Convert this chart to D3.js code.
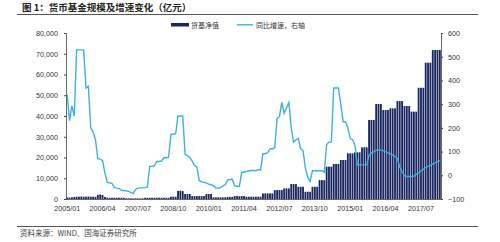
<!DOCTYPE html>
<html>
<head>
<meta charset="utf-8">
<script src="https://cdn.jsdelivr.net/npm/d3@7"></script>
<style>
  body { margin: 0; background: #fff; }
  svg text { font-family: "Liberation Sans", Arial, sans-serif; }
  .cn { font-family: "Noto Sans CJK SC", sans-serif; }
</style>
</head>
<body>
<div id="chart"></div>
<script>
// months 2005/01 .. 2018/03
var months = d3.timeMonths(new Date(2005, 0, 1), new Date(2018, 3, 1));
var fmt = d3.timeFormat("%Y/%m");
var categories = months.map(function (d) { return fmt(d); });

// 货基净值 (亿元), left axis
var fundSize = [
  700, 700, 800,
  1000, 1100, 1100, 1200, 1100, 1100, 1200, 1100, 1100, 1000,
  2000, 2200, 1900,
  1000,
  600, 600, 600, 600, 600, 600, 600, 600,
  300, 300, 300, 300, 300, 300, 300, 300,
  600, 600, 600, 600, 600, 600, 600, 600, 600, 600, 600,
  1100, 1100, 1100,
  3900, 4000, 3800,
  2400, 2400, 2400,
  1400, 1400, 1400, 1400, 1400, 1400,
  2400, 2400, 2400,
  800, 800, 800, 800, 800, 800,
  1000, 1000, 1000,
  1400, 1400, 1400, 1400, 1400,
  1100, 1100, 1100, 1100, 1100, 1100, 1100,
  2700, 2700, 2700, 2700, 2700,
  4300, 4300, 4300, 4300,
  5100, 5100, 5100,
  7200, 7200, 7200,
  5900, 5900, 5900,
  3500, 3500, 3500,
  5900, 5900, 5900,
  9100, 9100, 9100,
  15600, 15600, 15600,
  16900, 16900, 16900,
  18800, 18800, 18800,
  22000, 22000, 22000,
  22500, 22500, 22500,
  24900, 24900, 24900,
  38100, 38100, 38100,
  45800, 45800, 45800,
  42900, 42900, 42900,
  43700, 43700, 43700,
  47200, 47200, 47200,
  44800, 44800, 44800,
  42100, 42100, 42100,
  53600, 53600, 53600,
  65700, 65700, 65700,
  71800, 71800, 71800, 71800
];

// 同比增速 (%), right axis
var yoyGrowth = [
  340, 230, 293, 250, 529, 529, 529, 529, 368, 375,
  200, 183, 150, 70, 68, 62, 10, -30, -32, -34,
  -52, -54, -55, -63, -64, -66, -68, -72, -77, -60,
  -54, -53, -53, -52, -49, 37, 38, 40, 58, 58,
  60, 74, 74, 76, 173, 173, 175, 250, 250, 250,
  88, 82, 76, 60, 41, 34, -23, -28, -30, -32,
  -37, -40, -44, -54, -54, -52, -45, -40, -20, -18,
  -17, -44, -46, -47, 12, 14, 16, 18, 20, 20,
  19, 24, 22, 91, 91, 95, 112, 112, 115, 240,
  247, 307, 262, 285, 307, 200, 140, 150, 155, 112,
  105, 30, -9, -26, 20, 18, 20, 18, 20, 12,
  130, 140, 140, 368, 368, 368, 300, 226, 226, 200,
  155, 150, 126, 44, 44, 44, 44, 44, 85, 95,
  100, 105, 108, 106, 104, 100, 95, 90, 85, 80,
  70, 35, 15, -2, -5, -5, -5, -3, 5, 10,
  18, 25, 32, 38, 42, 48, 52, 58, 62
];

var leftTicks = [0, 10000, 20000, 30000, 40000, 50000, 60000, 70000, 80000];
var rightTicks = [-100, 0, 100, 200, 300, 400, 500, 600];
var xTickLabels = ["2005/01", "2006/04", "2007/07", "2008/10", "2010/01", "2011/04",
                   "2012/07", "2013/10", "2015/01", "2016/04", "2017/07"];

var w = 500, h = 242;
var plotL = 66, plotR = 441, plotT = 33, plotB = 199;

var svg = d3.select("#chart").append("svg")
  .attr("width", w)
  .attr("height", h);

// title
svg.append("text")
  .attr("class", "cn")
  .attr("x", 22).attr("y", 11)
  .attr("font-size", 9.5)
  .attr("font-weight", "bold")
  .attr("fill", "#222")
  .text("图 1：货币基金规模及增速变化（亿元）");

svg.append("line")
  .attr("x1", 17).attr("x2", 478)
  .attr("y1", 14.5).attr("y2", 14.5)
  .attr("stroke", "#555").attr("stroke-width", 1);

// scales
var xscale = d3.scaleBand()
  .domain(categories)
  .range([plotL, plotR])
  .paddingInner(0.22)
  .paddingOuter(0.1);

var yLeft = d3.scaleLinear().domain([0, 80000]).range([plotB, plotT]);
var yRight = d3.scaleLinear().domain([-100, 600]).range([plotB, plotT]);

// bars
svg.selectAll("rect.bar")
  .data(fundSize)
  .enter().append("rect")
  .attr("class", "bar")
  .attr("x", function (d, i) { return xscale(categories[i]); })
  .attr("width", xscale.bandwidth())
  .attr("y", function (d) { return yLeft(d); })
  .attr("height", function (d) { return plotB - yLeft(d); })
  .attr("fill", "#1b2760");

// line
var line = d3.line()
  .x(function (d, i) { return xscale(categories[i]) + xscale.bandwidth() / 2; })
  .y(function (d) { return yRight(d); });

svg.append("path")
  .datum(yoyGrowth)
  .attr("d", line)
  .attr("fill", "none")
  .attr("stroke", "#3bb1e2")
  .attr("stroke-width", 1.4);

// axes
var yaxisL = d3.axisLeft(yLeft)
  .tickValues(leftTicks)
  .tickSize(2)
  .tickPadding(6)
  .tickFormat(d3.format(","));

var gL = svg.append("g")
  .attr("transform", "translate(" + plotL + ",0)")
  .call(yaxisL);

var yaxisR = d3.axisRight(yRight)
  .tickValues(rightTicks)
  .tickSize(2)
  .tickPadding(5);

var gR = svg.append("g")
  .attr("transform", "translate(" + plotR + ",0)")
  .call(yaxisR);

var xaxis = d3.axisBottom(xscale)
  .tickValues(xTickLabels)
  .tickSize(0)
  .tickPadding(7);

var gX = svg.append("g")
  .attr("transform", "translate(0," + plotB + ")")
  .call(xaxis);

[gL, gR, gX].forEach(function (g) {
  g.selectAll("path").attr("stroke", "#444").attr("stroke-width", 0.8);
  g.selectAll("line").attr("stroke", "#444");
  g.selectAll("text").attr("fill", "#333").attr("font-size", 7.2)
    .attr("font-family", "Liberation Sans, Arial, sans-serif");
});
gX.select(".domain").attr("d", "M" + plotL + ",0.5H" + plotR);

// legend
svg.append("rect")
  .attr("x", 171).attr("y", 23).attr("width", 18).attr("height", 3.5)
  .attr("fill", "#1b2760");
svg.append("text")
  .attr("class", "cn")
  .attr("x", 191).attr("y", 27.5)
  .attr("font-size", 7)
  .attr("fill", "#333")
  .text("货基净值");

svg.append("line")
  .attr("x1", 237).attr("x2", 253)
  .attr("y1", 24.8).attr("y2", 24.8)
  .attr("stroke", "#3bb1e2").attr("stroke-width", 1.4);
svg.append("text")
  .attr("class", "cn")
  .attr("x", 256).attr("y", 27.5)
  .attr("font-size", 7)
  .attr("fill", "#333")
  .text("同比增速，右轴");

// footer
svg.append("line")
  .attr("x1", 17).attr("x2", 478)
  .attr("y1", 226.5).attr("y2", 226.5)
  .attr("stroke", "#555").attr("stroke-width", 1);

svg.append("text")
  .attr("class", "cn")
  .attr("x", 20).attr("y", 236)
  .attr("font-size", 7.5)
  .attr("fill", "#444")
  .text("资料来源：WIND、国海证券研究所");
</script>
</body>
</html>
